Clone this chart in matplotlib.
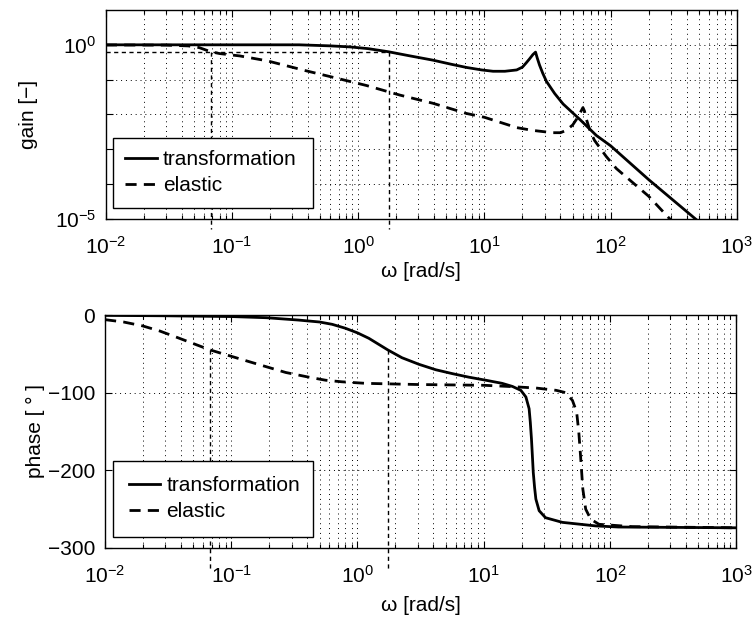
import numpy as np
import matplotlib
matplotlib.use("Agg")
import matplotlib.pyplot as plt
from matplotlib.ticker import LogLocator, NullLocator, FixedLocator

plt.rcParams['font.family'] = ['Liberation Sans', 'DejaVu Sans']
plt.rcParams['mathtext.fontset'] = 'custom'
plt.rcParams['mathtext.rm'] = 'Liberation Sans'
plt.rcParams['mathtext.it'] = 'Liberation Sans:italic'
plt.rcParams['mathtext.default'] = 'regular'
plt.rcParams['font.size'] = 15

# ---- gain, transformation model ----
w_gain_tr = [0.01, 0.03, 0.1, 0.34, 0.6, 0.86, 1.2, 1.74, 2.5, 3.9, 5.5, 7.2, 9.5, 11.7,
             14.5, 18.0, 20.0, 21.4, 22.8, 24.2, 25.4, 26.2, 27.3, 29.0, 31.0, 36.0,
             42.0, 57.0, 77.0, 100.0, 200.0, 500.0]
gain_tr = [1.0, 1.0, 1.0, 1.0, 0.933, 0.871, 0.776, 0.631, 0.49, 0.363, 0.275, 0.224,
           0.19, 0.174, 0.174, 0.19, 0.229, 0.302, 0.398, 0.525, 0.617, 0.417, 0.263,
           0.151, 0.089, 0.04, 0.02, 0.0072, 0.0025, 0.00126, 1.35e-4, 8.3e-6]

# ---- gain, elastic model ----
w_gain_el = [0.01, 0.03, 0.045, 0.055, 0.068, 0.08, 0.115, 0.19, 0.39, 0.63, 1.16, 2.14,
             3.9, 7.2, 10.0, 18.0, 24.0, 34.6, 40.0, 44.5, 50.0, 53.5, 57.0, 60.3, 62.0,
             64.3, 69.0, 74.5, 92.0, 111.0, 200.0, 300.0]
gain_el = [0.99, 0.98, 0.93, 0.83, 0.63, 0.56, 0.48, 0.347, 0.178, 0.117, 0.068, 0.036,
           0.021, 0.0107, 0.0083, 0.0042, 0.0035, 0.003, 0.003, 0.0035, 0.005, 0.0072,
           0.0107, 0.0158, 0.0126, 0.0072, 0.0032, 0.0018, 6.3e-4, 2.8e-4, 4.5e-5, 9.3e-6]

# ---- phase, transformation model ----
w_ph_tr = [0.01, 0.03, 0.1, 0.19, 0.34, 0.5, 0.63, 0.8, 1.0, 1.23, 1.48, 1.74, 2.25,
           3.07, 4.17, 5.65, 7.6, 10.4, 14.0, 16.9, 19.7, 21.6, 22.9, 23.4, 23.9, 24.3,
           24.7, 25.3, 25.9, 27.5, 30.9, 42.0, 77.5, 117.0, 1000.0]
ph_tr = [-0.5, -1, -2, -3.5, -6.5, -9, -12, -17, -23, -30, -38, -45, -55, -63.5, -70.5,
         -75.5, -80, -84, -88, -92, -97, -105.6, -120.7, -138, -159.5, -181, -202.7,
         -222, -237, -252, -261, -267, -271.6, -273, -274]

# ---- phase, elastic model ----
w_ph_el = [0.01, 0.014, 0.0198, 0.027, 0.036, 0.068, 0.138, 0.27, 0.41, 0.56, 0.75,
           1.16, 3.0, 10.0, 15.8, 25.9, 37.5, 44.8, 50.5, 54.5, 56.7, 58.5, 61.0, 64.3,
           70.5, 82.0, 150.0, 1000.0]
ph_el = [-6, -9, -14, -20.5, -28, -45, -60, -74, -80, -84, -86, -88, -89.5, -90.5, -92,
         -94, -97, -100, -110, -125, -151, -181, -224, -250, -263, -269.5, -272.5, -274]

# bandwidth markers
bw_elastic = 0.068
bw_transformation = 1.74
gain_level = 0.63
phase_level = -45

labels = ['transformation', 'elastic']
x_ticks = [1e-2, 1e-1, 1e0, 1e1, 1e2, 1e3]
gain_ticks = [1e-5, 1e-4, 1e-3, 1e-2, 1e-1, 1e0]
gain_ticklabels = ['$10^{-5}$', '', '', '', '', '$10^{0}$']
phase_ticks = [-300, -200, -100, 0]

fig = plt.figure(figsize=(7.56, 6.28), dpi=100)
ax1 = fig.add_axes([0.140, 0.6513, 0.8347, 0.3328])
ax2 = fig.add_axes([0.139, 0.1274, 0.8347, 0.371])

dash_curve = (0, (4, 2.6))
dash_ref = (0, (3, 2.5))
grid_kw = dict(color='k', linestyle=(0, (1, 4)), linewidth=0.7)

# gain plot
ax1.loglog(w_gain_tr, gain_tr, color='k', lw=2.0, label=labels[0])
ax1.loglog(w_gain_el, gain_el, color='k', lw=2.0, linestyle=dash_curve, label=labels[1])
ax1.plot([x_ticks[0], bw_transformation], [gain_level, gain_level], color='k', lw=1.0,
         linestyle=dash_ref)
for wb in (bw_elastic, bw_transformation):
    ax1.plot([wb, wb], [gain_level, 5e-6], color='k', lw=1.0, linestyle=dash_ref,
             clip_on=False)
ax1.set_xlim(1e-2, 1e3)
ax1.set_ylim(1e-5, 1e1)
ax1.yaxis.set_major_locator(FixedLocator(gain_ticks))
ax1.set_yticklabels(gain_ticklabels)
ax1.yaxis.set_minor_locator(NullLocator())
ax1.set_ylabel('gain [\u2212]', labelpad=12)

# phase plot
ax2.semilogx(w_ph_tr, ph_tr, color='k', lw=2.0, label=labels[0])
ax2.semilogx(w_ph_el, ph_el, color='k', lw=2.0, linestyle=dash_curve, label=labels[1])
for wb in (bw_elastic, bw_transformation):
    ax2.plot([wb, wb], [phase_level, -327], color='k', lw=1.0, linestyle=dash_ref,
             clip_on=False)
ax2.set_xlim(1e-2, 1e3)
ax2.set_ylim(-300, 0)
ax2.set_yticks(phase_ticks)
ax2.set_ylabel('phase [ \u00b0 ]', labelpad=2)

for ax, lp in ((ax1, 3), (ax2, 7)):
    ax.xaxis.set_major_locator(LogLocator(base=10, numticks=20))
    ax.xaxis.set_minor_locator(LogLocator(base=10, subs=np.arange(2, 10), numticks=20))
    ax.set_xticks(x_ticks)
    ax.set_xlabel('\u03c9 [rad/s]', labelpad=lp)
    ax.grid(True, which='both', axis='x', **grid_kw)
    ax.grid(True, which='major', axis='y', **grid_kw)
    ax.tick_params(which='both', direction='in', top=True, right=True, width=0.8)
    ax.tick_params(axis='x', which='major', length=5, pad=12)
    ax.tick_params(axis='y', which='major', length=5, pad=7)
    ax.tick_params(which='minor', length=3)
    for s in ax.spines.values():
        s.set_linewidth(1.0)
    ax.set_axisbelow(True)

leg_kw = dict(loc='lower left', borderaxespad=0, fancybox=False, framealpha=1,
              edgecolor='k', handlelength=1.5, handletextpad=0.3, mode='expand',
              fontsize=15)
l1 = ax1.legend(bbox_to_anchor=(0.011, 0.053, 0.317, 0.3), borderpad=0.6,
                labelspacing=0.35, **leg_kw)
l2 = ax2.legend(bbox_to_anchor=(0.013, 0.047, 0.317, 0.3), borderpad=0.75,
                labelspacing=0.35, **leg_kw)
for l in (l1, l2):
    l.get_frame().set_linewidth(1.0)

fig.savefig('out.png', dpi=100)
